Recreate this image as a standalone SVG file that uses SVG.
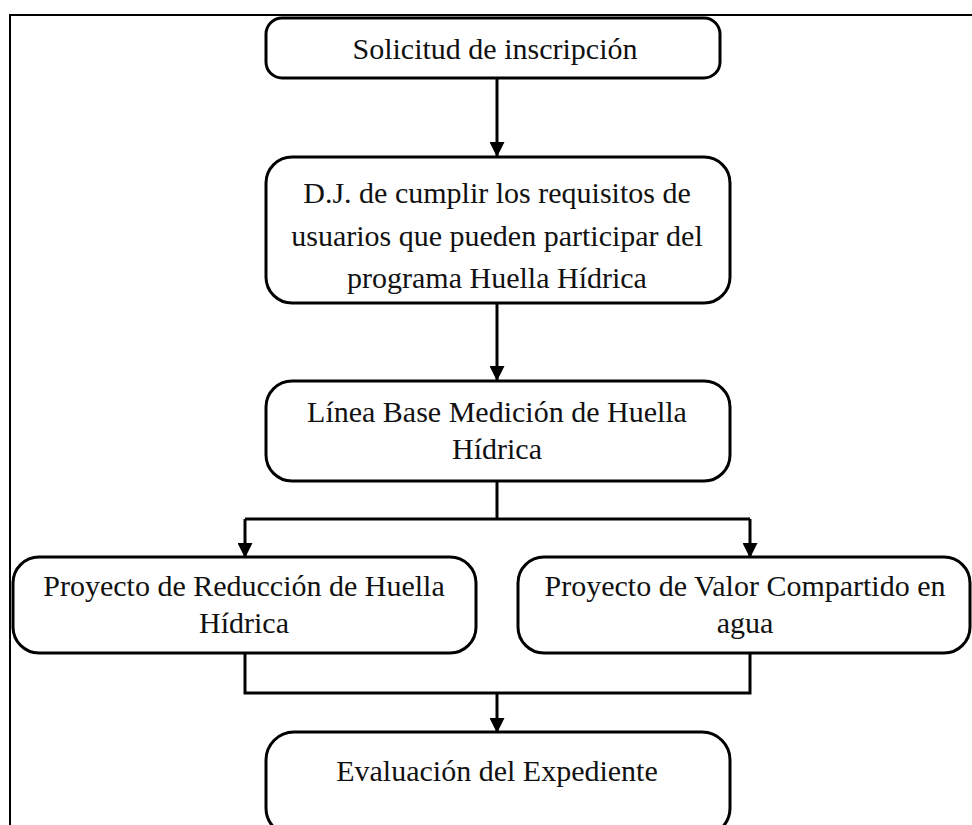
<svg xmlns="http://www.w3.org/2000/svg" width="972" height="825" viewBox="0 0 972 825">
<defs>
<marker id="ah" markerWidth="15" markerHeight="15" refX="14" refY="7.5" orient="auto" markerUnits="userSpaceOnUse">
<path d="M0,0 L15,7.5 L0,15 Z" fill="#000"/>
</marker>
<style>
.box{fill:#fff;stroke:#000;stroke-width:3}
.t{font-family:"Liberation Serif","Times New Roman",serif;font-size:30px;fill:#111;text-anchor:middle}
.c{fill:none;stroke:#000;stroke-width:3}
</style>
</defs>
<rect width="972" height="825" fill="#fff"/>
<path d="M10,825 L10,15 L972,15" fill="none" stroke="#000" stroke-width="2"/>
<g id="connectors">
<path class="c" d="M497,78 L497,156" marker-end="url(#ah)"/>
<path class="c" d="M497,303 L497,380" marker-end="url(#ah)"/>
<path class="c" d="M497,481 L497,519 M245,519 L750,519"/>
<path class="c" d="M245,519 L245,557" marker-end="url(#ah)"/>
<path class="c" d="M750,519 L750,557" marker-end="url(#ah)"/>
<path class="c" d="M245,653 L245,693 L750,693 L750,653"/>
<path class="c" d="M497,693 L497,732" marker-end="url(#ah)"/>
</g>
<g id="n1">
<rect class="box" x="266" y="18" width="454" height="60" rx="16"/>
<text class="t" x="495" y="59">Solicitud de inscripción</text>
</g>
<g id="n2">
<rect class="box" x="266" y="157" width="464" height="146" rx="26"/>
<text class="t" x="497" y="203">D.J. de cumplir los requisitos de</text>
<text class="t" x="497" y="246">usuarios que pueden participar del</text>
<text class="t" x="497" y="288">programa Huella Hídrica</text>
</g>
<g id="n3">
<rect class="box" x="266" y="381" width="464" height="100" rx="26"/>
<text class="t" x="497" y="422">Línea Base Medición de Huella</text>
<text class="t" x="497" y="459">Hídrica</text>
</g>
<g id="n4">
<rect class="box" x="13" y="557" width="463" height="96" rx="26"/>
<text class="t" x="244" y="596">Proyecto de Reducción de Huella</text>
<text class="t" x="244" y="633">Hídrica</text>
</g>
<g id="n5">
<rect class="box" x="518" y="557" width="452" height="96" rx="26"/>
<text class="t" x="745" y="596">Proyecto de Valor Compartido en</text>
<text class="t" x="745" y="633">agua</text>
</g>
<g id="n6">
<rect class="box" x="266" y="732" width="464" height="104" rx="28"/>
<text class="t" x="497" y="781">Evaluación del Expediente</text>
</g>
</svg>
